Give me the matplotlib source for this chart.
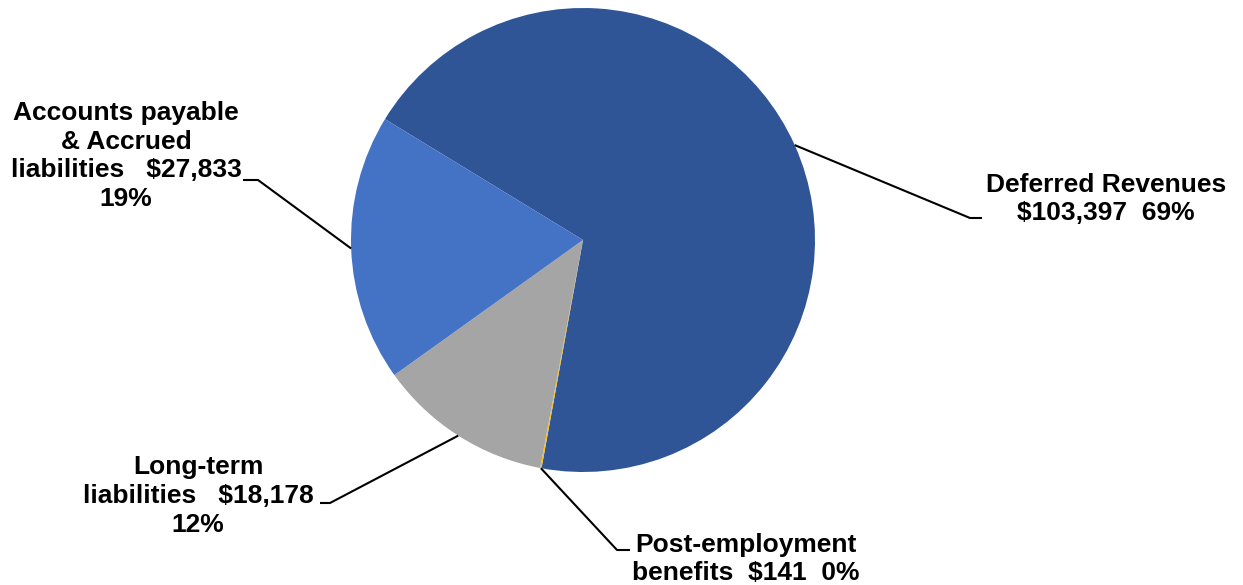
import matplotlib.pyplot as plt
import numpy as np

plt.rcParams['font.family'] = ['Liberation Sans', 'DejaVu Sans']

# Данные
names = ['Deferred Revenues', 'Post-employment benefits', 'Long-term liabilities',
         'Accounts payable & Accrued liabilities']
values = [103397, 141, 18178, 27833]
colors = ['#2F5597', '#FFC000', '#A5A5A5', '#4472C4']

total = sum(values)
pct = [round(v / total * 100) for v in values]

label_texts = [
    f'Deferred Revenues\n${values[0]:,}  {pct[0]}%',
    f'Post-employment\nbenefits  ${values[1]:,}  {pct[1]}%',
    f'Long-term\nliabilities   ${values[2]:,}\n{pct[2]}%',
    f'Accounts payable\n& Accrued\nliabilities   ${values[3]:,}\n{pct[3]}%',
]

W, H = 1243, 585
fig = plt.figure(figsize=(W / 100, H / 100), dpi=100)
ax = fig.add_axes([0, 0, 1, 1])

cx, cy, r = 583, H - 240, 232
wedges, _ = ax.pie(values, colors=colors, startangle=148.6, counterclock=False,
                   center=(cx, cy), radius=r, wedgeprops=dict(linewidth=0))
ax.set_xlim(0, W)
ax.set_ylim(0, H)
ax.set_aspect('equal')
ax.axis('off')

# Выноски: (излом линии, конец линии, позиция текста, выравнивание)
layout = [
    ((970, 218), (982, 218), (1106, 199), 'center'),
    ((617, 550), (630, 550), (632, 559), 'left'),
    ((330, 503), (320, 503), (198, 496), 'center'),
    ((258, 180), (243, 180), (126, 156), 'center'),
]

for w, txt, (elbow, end, tpos, ha) in zip(wedges, label_texts, layout):
    ang = np.deg2rad((w.theta1 + w.theta2) / 2)
    px = cx + r * np.cos(ang)
    py = cy + r * np.sin(ang)
    xs = [px, elbow[0], end[0]]
    ys = [py, H - elbow[1], H - end[1]]
    ax.plot(xs, ys, color='black', linewidth=1.5, solid_capstyle='butt')
    ax.text(tpos[0], H - tpos[1], txt, ha=ha, va='center', multialignment='center',
            fontsize=19, fontweight='bold', color='black', linespacing=1.25)

fig.savefig('out.png', dpi=100)
